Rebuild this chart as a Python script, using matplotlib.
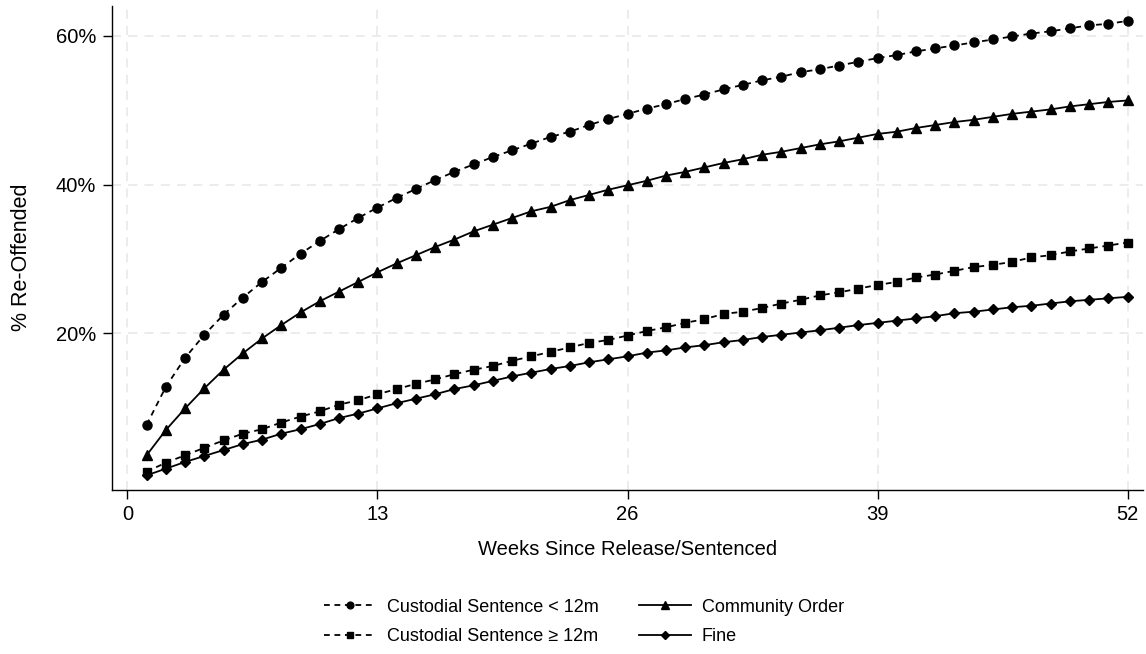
import matplotlib
matplotlib.use("Agg")
import matplotlib.pyplot as plt
from matplotlib.ticker import FuncFormatter

plt.rcParams['font.family'] = ['Liberation Sans', 'DejaVu Sans']

weeks = list(range(1, 53))

cust_lt12 = [7.7, 12.8, 16.7, 19.8, 22.5, 24.8, 26.9, 28.8, 30.7, 32.4,
             34.0, 35.5, 36.9, 38.2, 39.4, 40.6, 41.7, 42.7, 43.7, 44.6,
             45.5, 46.4, 47.1, 48.0, 48.8, 49.5, 50.2, 50.8, 51.5, 52.1,
             52.8, 53.4, 54.0, 54.5, 55.1, 55.5, 56.0, 56.5, 57.0, 57.4,
             57.9, 58.3, 58.7, 59.1, 59.5, 59.9, 60.3, 60.6, 61.0, 61.4,
             61.6, 62.0]
community = [3.6, 7.0, 9.9, 12.6, 15.1, 17.3, 19.3, 21.1, 22.8, 24.3,
             25.6, 26.9, 28.2, 29.4, 30.5, 31.6, 32.6, 33.7, 34.6, 35.5,
             36.4, 37.0, 37.9, 38.6, 39.3, 39.9, 40.5, 41.2, 41.7, 42.3,
             42.9, 43.4, 44.0, 44.4, 44.9, 45.4, 45.8, 46.3, 46.8, 47.1,
             47.6, 48.0, 48.4, 48.7, 49.1, 49.5, 49.8, 50.1, 50.5, 50.8,
             51.1, 51.3]
cust_ge12 = [1.4, 2.6, 3.6, 4.6, 5.6, 6.5, 7.1, 8.0, 8.8, 9.5,
             10.4, 11.0, 11.8, 12.5, 13.2, 13.8, 14.5, 15.1, 15.6, 16.3,
             16.9, 17.5, 18.1, 18.7, 19.1, 19.7, 20.3, 20.8, 21.4, 21.9,
             22.6, 22.9, 23.4, 24.0, 24.5, 25.1, 25.5, 26.0, 26.5, 26.9,
             27.5, 27.9, 28.4, 28.9, 29.2, 29.6, 30.2, 30.5, 31.0, 31.4,
             31.8, 32.2]
fine = [0.9, 1.8, 2.7, 3.5, 4.3, 5.1, 5.7, 6.5, 7.1, 7.8,
        8.6, 9.2, 9.9, 10.6, 11.2, 11.8, 12.5, 13.0, 13.6, 14.2,
        14.7, 15.2, 15.6, 16.1, 16.5, 16.9, 17.4, 17.7, 18.1, 18.4,
        18.8, 19.1, 19.5, 19.8, 20.1, 20.4, 20.75, 21.1, 21.4, 21.7,
        22.0, 22.3, 22.7, 22.9, 23.2, 23.5, 23.7, 24.0, 24.3, 24.5,
        24.7, 24.9]

labels = ["Custodial Sentence < 12m", "Custodial Sentence \u2265 12m",
          "Community Order", "Fine"]
x_ticks = [0, 13, 26, 39, 52]
y_ticks = [20, 40, 60]

fig = plt.figure(figsize=(11.46, 6.54), dpi=100)
ax = fig.add_axes([112/1146, 1 - 490/654, (1143-112)/1146, (490-6)/654])

dash = (0, (3.2, 2.6))
h1, = ax.plot(weeks, cust_lt12, color='black', lw=1.3, linestyle=dash,
              marker='o', ms=6.5, label=labels[0])
h2, = ax.plot(weeks, cust_ge12, color='black', lw=1.3, linestyle=dash,
              marker='s', ms=6.0, label=labels[1])
h3, = ax.plot(weeks, community, color='black', lw=1.3, linestyle='-',
              marker='^', ms=7.0, label=labels[2])
h4, = ax.plot(weeks, fine, color='black', lw=1.3, linestyle='-',
              marker='D', ms=5.5, label=labels[3])

ax.set_xlim(-0.8, 52.8)
ax.set_ylim(-1.07, 64.0)
ax.set_xticks(x_ticks)
ax.set_yticks(y_ticks)
ax.yaxis.set_major_formatter(FuncFormatter(lambda v, p: f"{int(v)}%"))
ax.grid(True, color='#ebebeb', linestyle=(0, (5, 4)), lw=1.3)
ax.set_axisbelow(True)
for s in ['top', 'right']:
    ax.spines[s].set_visible(False)
for s in ['left', 'bottom']:
    ax.spines[s].set_linewidth(1.0)
ax.tick_params(axis='both', direction='out', length=6.5, width=1.0,
               labelsize=14.5, pad=4)
ax.tick_params(axis='y', pad=5)

ax.set_xlabel("Weeks Since Release/Sentenced", fontsize=14.5, labelpad=12)
ax.set_ylabel("% Re-Offended", fontsize=15.5)
ax.yaxis.set_label_coords((32 - 112) / 1031, (490 - 257) / 484)

leg = fig.legend(handles=[h1, h2, h3, h4], loc='center',
                 bbox_to_anchor=(584/1146, 1 - 622/654), ncol=2,
                 frameon=False, fontsize=13, markerscale=0.75,
                 handlelength=2.9, handletextpad=0.6, columnspacing=2.2,
                 labelspacing=0.7)

fig.savefig("out.png", dpi=100)
